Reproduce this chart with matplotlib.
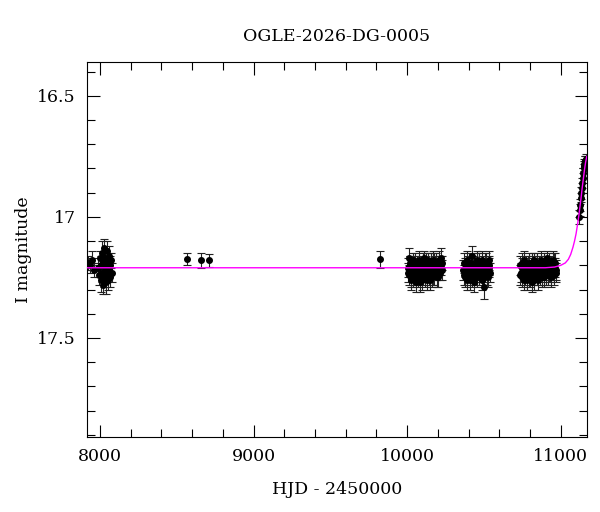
import numpy as np
import matplotlib
matplotlib.use("Agg")
import matplotlib.pyplot as plt
from matplotlib.ticker import MultipleLocator, FormatStrFormatter

plt.rcParams['font.family'] = ['DejaVu Serif']

# season 1
t1 = [7922, 7935, 7950, 7960, 7985, 7995, 8000, 8003, 8006, 8010, 8013, 8016,
      8020, 8023, 8026, 8030, 8033, 8036, 8040, 8043, 8046, 8050, 8053, 8056,
      8060, 8063, 8066, 8070, 8075]
m1 = [17.19, 17.20, 17.18, 17.22, 17.21, 17.24, 17.17, 17.26, 17.20, 17.15,
      17.23, 17.28, 17.19, 17.13, 17.25, 17.21, 17.17, 17.27, 17.22, 17.14,
      17.24, 17.19, 17.26, 17.16, 17.22, 17.20, 17.25, 17.18, 17.23]
e1 = [0.03, 0.03, 0.04, 0.03, 0.04, 0.04, 0.03, 0.05, 0.04, 0.05, 0.04, 0.04,
      0.03, 0.04, 0.04, 0.03, 0.04, 0.05, 0.04, 0.04, 0.03, 0.04, 0.04, 0.04,
      0.03, 0.04, 0.04, 0.03, 0.04]

# sparse points
t2 = [8567, 8660, 8708, 9825]
m2 = [17.175, 17.18, 17.18, 17.175]
e2 = [0.025, 0.03, 0.025, 0.035]

# season 2
t3 = [10005, 10010, 10015, 10020, 10025, 10030, 10036, 10041, 10046, 10052,
      10057, 10062, 10068, 10073, 10078, 10084, 10089, 10095, 10100, 10105,
      10111, 10116, 10121, 10127, 10132, 10138, 10143, 10148, 10154, 10159,
      10164, 10170, 10175, 10181, 10186, 10191, 10197, 10202, 10207, 10213,
      10218, 10224, 10230,
      10008, 10018, 10028, 10039, 10049, 10060, 10071, 10081, 10092, 10103,
      10114, 10124, 10135, 10146, 10157, 10167, 10178, 10189, 10200, 10210,
      10221]
m3 = [17.21, 17.17, 17.24, 17.19, 17.26, 17.22, 17.18, 17.25, 17.20, 17.23,
      17.27, 17.19, 17.22, 17.25, 17.18, 17.24, 17.21, 17.26, 17.19, 17.23,
      17.17, 17.25, 17.20, 17.22, 17.26, 17.18, 17.24, 17.21, 17.19, 17.25,
      17.22, 17.18, 17.24, 17.20, 17.23, 17.19, 17.25, 17.21, 17.18, 17.23,
      17.20, 17.22, 17.19,
      17.23, 17.20, 17.25, 17.22, 17.19, 17.24, 17.21, 17.27, 17.20, 17.24,
      17.22, 17.19, 17.23, 17.26, 17.21, 17.24, 17.19, 17.22, 17.25, 17.20,
      17.17]
e3 = [0.04, 0.04, 0.04, 0.03, 0.04, 0.04, 0.03, 0.04, 0.04, 0.04,
      0.04, 0.03, 0.04, 0.04, 0.04, 0.03, 0.04, 0.04, 0.04, 0.04,
      0.03, 0.04, 0.04, 0.04, 0.04, 0.03, 0.04, 0.04, 0.04, 0.04,
      0.03, 0.04, 0.04, 0.04, 0.03, 0.04, 0.04, 0.04, 0.04, 0.03,
      0.04, 0.04, 0.03,
      0.04, 0.04, 0.04, 0.04, 0.04, 0.04, 0.04, 0.04, 0.04, 0.04,
      0.04, 0.04, 0.04, 0.04, 0.04, 0.04, 0.04, 0.04, 0.04, 0.04,
      0.04]

# season 3
t4 = [10365, 10370, 10376, 10381, 10387, 10392, 10398, 10403, 10409, 10414,
      10420, 10425, 10431, 10436, 10442, 10447, 10453, 10458, 10464, 10469,
      10475, 10480, 10486, 10491, 10497, 10502, 10508, 10513, 10519, 10524,
      10530, 10535, 10541,
      10368, 10378, 10389, 10400, 10411, 10422, 10433, 10444, 10455, 10466,
      10477, 10488, 10499, 10510, 10521, 10532]
m4 = [17.22, 17.19, 17.25, 17.21, 17.18, 17.24, 17.20, 17.23, 17.26, 17.19,
      17.22, 17.16, 17.24, 17.27, 17.20, 17.23, 17.18, 17.25, 17.21, 17.19,
      17.24, 17.22, 17.18, 17.25, 17.20, 17.29, 17.23, 17.19, 17.22, 17.25,
      17.20, 17.18, 17.23,
      17.24, 17.21, 17.26, 17.19, 17.22, 17.25, 17.20, 17.23, 17.19, 17.24,
      17.21, 17.26, 17.22, 17.19, 17.24, 17.21]
e4 = [0.04, 0.04, 0.04, 0.03, 0.04, 0.04, 0.04, 0.04, 0.04, 0.03,
      0.04, 0.04, 0.04, 0.04, 0.03, 0.04, 0.04, 0.04, 0.04, 0.04,
      0.03, 0.04, 0.04, 0.04, 0.04, 0.05, 0.04, 0.04, 0.03, 0.04,
      0.04, 0.04, 0.04,
      0.04, 0.04, 0.04, 0.04, 0.04, 0.04, 0.04, 0.04, 0.04, 0.04,
      0.04, 0.04, 0.04, 0.04, 0.04, 0.04]

# season 4
t5 = [10735, 10740, 10746, 10751, 10757, 10762, 10768, 10773, 10779, 10784,
      10790, 10795, 10801, 10806, 10812, 10817, 10823, 10828, 10834, 10839,
      10845, 10850, 10856, 10861, 10867, 10872, 10878, 10883, 10889, 10894,
      10900, 10905, 10911, 10916, 10922, 10927, 10933, 10938, 10944, 10949,
      10955, 10960, 10966, 10971,
      10738, 10749, 10760, 10771, 10782, 10793, 10804, 10815, 10826, 10837,
      10848, 10859, 10870, 10881, 10892, 10903, 10914, 10925, 10936, 10947,
      10958, 10969]
m5 = [17.20, 17.23, 17.19, 17.25, 17.22, 17.18, 17.24, 17.21, 17.26, 17.20,
      17.23, 17.19, 17.25, 17.22, 17.27, 17.20, 17.18, 17.24, 17.21, 17.23,
      17.19, 17.26, 17.22, 17.20, 17.24, 17.18, 17.23, 17.21, 17.25, 17.19,
      17.22, 17.20, 17.17, 17.24, 17.21, 17.19, 17.23, 17.20, 17.22, 17.18,
      17.24, 17.21, 17.19, 17.22,
      17.24, 17.21, 17.26, 17.20, 17.23, 17.25, 17.21, 17.19, 17.26, 17.22,
      17.24, 17.20, 17.22, 17.25, 17.21, 17.24, 17.20, 17.23, 17.25, 17.21,
      17.19, 17.23]
e5 = [0.04, 0.04, 0.04, 0.04, 0.03, 0.04, 0.04, 0.04, 0.04, 0.04,
      0.03, 0.04, 0.04, 0.04, 0.04, 0.04, 0.03, 0.04, 0.04, 0.04,
      0.04, 0.04, 0.03, 0.04, 0.04, 0.04, 0.04, 0.03, 0.04, 0.04,
      0.04, 0.04, 0.03, 0.04, 0.04, 0.04, 0.04, 0.04, 0.03, 0.04,
      0.04, 0.04, 0.04, 0.04,
      0.04, 0.04, 0.04, 0.04, 0.04, 0.04, 0.04, 0.04, 0.04, 0.04,
      0.04, 0.04, 0.04, 0.04, 0.04, 0.04, 0.04, 0.04, 0.04, 0.04,
      0.04, 0.04]

# rising part
t6 = [11122, 11125, 11128, 11131, 11134, 11137, 11140, 11143, 11146, 11149,
      11152, 11155, 11158, 11161, 11164]
m6 = [17.00, 16.97, 16.95, 16.92, 16.90, 16.88, 16.86, 16.84, 16.82, 16.80,
      16.79, 16.78, 16.77, 16.77, 16.76]
e6 = [0.03, 0.025, 0.025, 0.02, 0.025, 0.02, 0.02, 0.02, 0.02, 0.02,
      0.02, 0.02, 0.02, 0.02, 0.02]

# model curve
model_t = [7900, 8500, 9000, 9500, 10000, 10500, 10900, 10960, 11000, 11030,
           11050, 11065, 11080, 11090, 11100, 11110, 11118, 11125, 11132,
           11140, 11148, 11155, 11162, 11170]
model_m = [17.21, 17.21, 17.21, 17.21, 17.21, 17.21, 17.21, 17.207, 17.20,
           17.19, 17.175, 17.155, 17.125, 17.10, 17.07, 17.03, 16.995, 16.96,
           16.925, 16.88, 16.84, 16.805, 16.775, 16.75]

t_all = t1 + t2 + t3 + t4 + t5 + t6
m_all = m1 + m2 + m3 + m4 + m5 + m6
e_all = e1 + e2 + e3 + e4 + e5 + e6

fig = plt.figure(figsize=(6, 5.12), dpi=100)
ax = fig.add_axes([0.145, 0.146, 0.833, 0.733])

ax.plot(model_t, model_m, color='magenta', lw=1.0, zorder=3)
ax.errorbar(t_all, m_all, yerr=e_all, fmt='o', color='black', ms=4,
            ecolor='#222222', elinewidth=0.8, capsize=3, capthick=0.8, zorder=2)

ax.set_xlim(7915, 11170)
ax.set_ylim(17.91, 16.36)
ax.xaxis.set_major_locator(MultipleLocator(1000))
ax.xaxis.set_minor_locator(MultipleLocator(200))
ax.yaxis.set_major_locator(MultipleLocator(0.5))
ax.yaxis.set_minor_locator(MultipleLocator(0.1))
ax.yaxis.set_major_formatter(FormatStrFormatter('%g'))
ax.tick_params(which='both', direction='in', top=True, right=True, labelsize=12.5)
ax.tick_params(which='major', length=9, width=0.8)
ax.tick_params(which='minor', length=5.5, width=0.8)
ax.tick_params(axis='x', pad=8)
ax.tick_params(axis='y', pad=8)

ax.set_title('OGLE-2026-DG-0005', fontsize=12.5, pad=15)
ax.set_xlabel('HJD - 2450000', fontsize=12.5, labelpad=11)
ax.set_ylabel('I magnitude', fontsize=12.5, labelpad=4)

fig.savefig('out.png', dpi=100)
